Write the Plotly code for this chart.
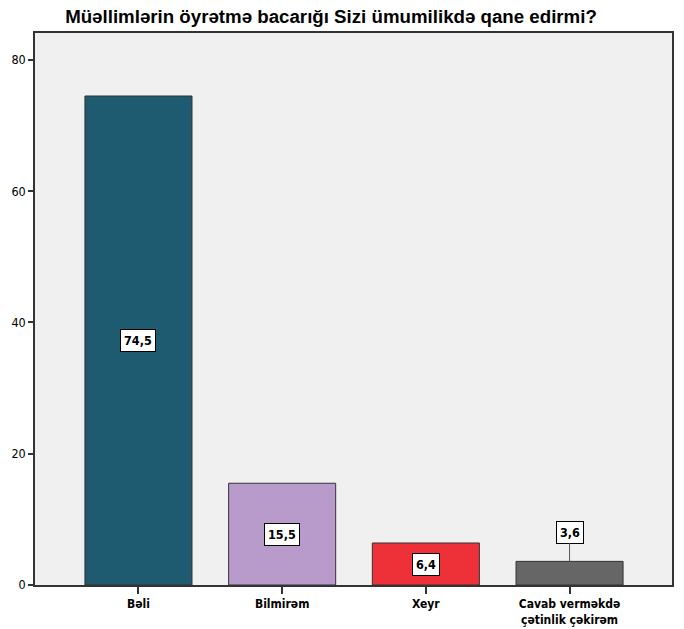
import plotly.graph_objects as go

categories = ["Bəli", "Bilmirəm", "Xeyr", "Cavab verməkdə<br>çətinlik çəkirəm"]
values = [74.5, 15.5, 6.4, 3.6]
colors = ["#1e5b70", "#b89bcb", "#ee3039", "#666666"]
y_ticks = [0, 20, 40, 60, 80]
title = "Müəllimlərin öyrətmə bacarığı Sizi ümumilikdə qane edirmi?"

FONT = "DejaVu Sans Condensed, Liberation Sans Narrow, Liberation Sans, Arial"
xs = list(range(len(categories)))

W, H = 684, 629

fig = go.Figure()
fig.add_trace(go.Bar(
    x=xs, y=values, width=0.745,
    marker=dict(color=colors, line=dict(color="#333333", width=1)),
    hoverinfo="skip",
))

for i, v in enumerate(values):
    txt = f"<b>{v:.1f}</b>".replace(".", ",")
    common = dict(font=dict(family=FONT, size=12.5, color="black"),
                  bgcolor="white", bordercolor="black", borderwidth=1,
                  borderpad=3)
    if v > 5:
        fig.add_annotation(x=xs[i], y=v / 2, text=txt, showarrow=False, **common)
    else:
        fig.add_annotation(x=xs[i], y=v, text=txt, showarrow=True,
                           arrowhead=0, arrowwidth=1, arrowcolor="#555555",
                           ax=0, ay=-29, standoff=0, **common)

fig.update_layout(
    width=W, height=H,
    margin=dict(l=35, r=12, t=33, b=44, autoexpand=False),
    paper_bgcolor="white", plot_bgcolor="#f0f0f0",
    showlegend=False,
    title=dict(text=title, x=331 / W, xanchor="center",
               y=1 - 16 / H, yanchor="middle", automargin=False,
               font=dict(family="Liberation Sans, Arial", size=18.7, color="black", weight="bold")),
    xaxis=dict(range=[-0.72, 3.713], tickvals=xs, ticktext=[f"<b>{c}</b>" for c in categories],
               automargin=False,
               ticks="outside", ticklen=7, tickcolor="#333333", tickwidth=1.5,
               showline=True, linecolor="#333333", linewidth=1.5, mirror=True,
               showgrid=False, zeroline=False,
               tickfont=dict(family=FONT, size=12, color="black")),
    yaxis=dict(range=[0, 84.1], tickvals=y_ticks, ticks="outside", ticklen=5,
               automargin=False,
               tickcolor="#333333", tickwidth=1.5,
               showline=True, linecolor="#333333", linewidth=1.5, mirror=True,
               showgrid=False, zeroline=False,
               tickfont=dict(family=FONT, size=12.5, color="black")),
)

fig.write_html("out.html", config={"displayModeBar": False},
               post_script="document.body.style.margin='0';document.documentElement.style.overflow='hidden';")
